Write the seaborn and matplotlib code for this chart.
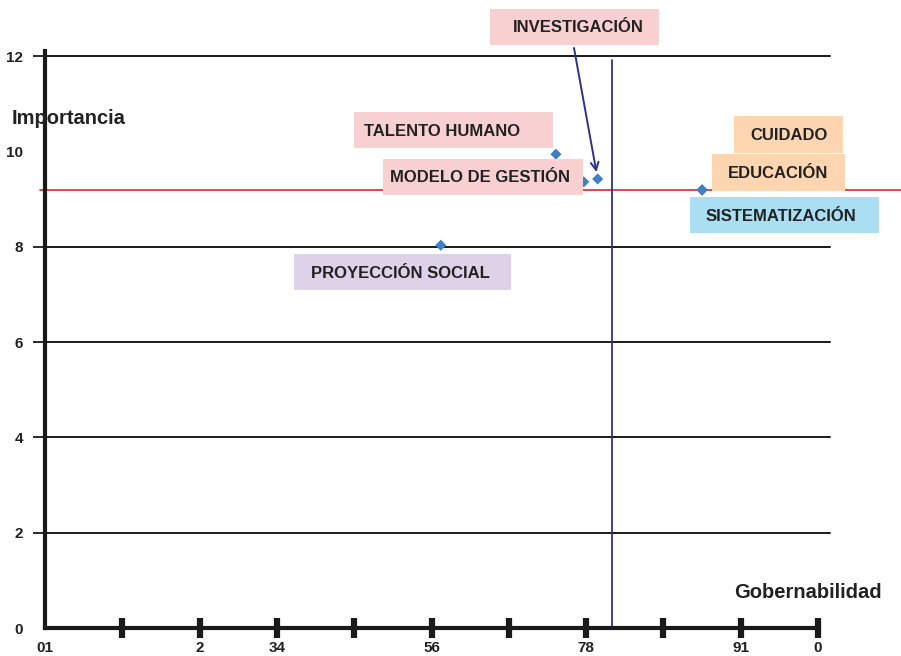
import numpy as np
import pandas as pd
import matplotlib
matplotlib.use("Agg")
import matplotlib.pyplot as plt
from matplotlib.patches import Rectangle
import seaborn as sns

# datos
temas = ["TALENTO HUMANO", "MODELO DE GESTIÓN", "INVESTIGACIÓN", "PROYECCIÓN SOCIAL",
         "SISTEMATIZACIÓN", "EDUCACIÓN", "CUIDADO"]
gobernabilidad = [6.61, 6.97, 7.15, 5.12, 8.50, 8.50, 8.50]
importancia = [9.94, 9.36, 9.42, 8.03, 9.19, 9.19, 9.19]
xticks = list(range(11))
xtick_labels = ["01", "", "2", "34", "", "56", "", "78", "", "91", "0"]
yticks = [0, 2, 4, 6, 8, 10, 12]

df = pd.DataFrame({"tema": temas, "Gobernabilidad": gobernabilidad, "Importancia": importancia})

sns.set_style("white")
plt.rcParams["font.family"] = ["Liberation Sans", "DejaVu Sans"]
plt.rcParams["font.weight"] = "bold"

W, H = 901, 656
fig = plt.figure(figsize=(W / 100, H / 100), dpi=100)
ax = fig.add_axes([45 / W, (H - 628) / H, (818 - 45) / W, (628 - 56) / H])

# lineas horizontales (sin la de 10)
for yv in [2, 4, 6, 8, 12]:
    ax.plot([0, 10.16], [yv, yv], color="#1a1a1a", lw=1.4, clip_on=False, zorder=1)

# promedios
ax.plot([-0.06, 11.1], [df["Importancia"].mean()] * 2, color="#e8202a", lw=1.2,
        clip_on=False, zorder=2)
ax.plot([df["Gobernabilidad"].mean()] * 2, [0, 11.92], color="#2e3192", lw=1.3,
        clip_on=False, zorder=2)

sns.scatterplot(data=df, x="Gobernabilidad", y="Importancia", marker="D", s=32,
                color="#3f7fc4", edgecolor="none", ax=ax, zorder=4, legend=False)

ax.set_xlim(0, 10)
ax.set_ylim(0, 12)
ax.set_xticks(xticks)
ax.set_xticklabels(xtick_labels, fontsize=11, fontweight="bold", color="#222222")
ax.set_yticks(yticks)
ax.set_yticklabels([str(v) for v in yticks], fontsize=11, fontweight="bold", color="#222222")
ax.tick_params(axis="x", direction="inout", length=14, width=4.5, color="#1a1a1a", pad=2,
               bottom=True)
ax.tick_params(axis="y", direction="out", length=9, width=1.3, color="#1a1a1a", pad=7,
               left=True)
ax.xaxis.get_major_ticks()[0].tick1line.set_visible(False)
ax.xaxis.get_major_ticks()[0].label1.set_x(0.07)
for k in (0, 5):
    ax.yaxis.get_major_ticks()[k].tick1line.set_visible(False)
ax.set_xlabel("")
ax.set_ylabel("")
for s in ["top", "right"]:
    ax.spines[s].set_visible(False)
for s in ["left", "bottom"]:
    ax.spines[s].set_linewidth(3)
    ax.spines[s].set_color("#1a1a1a")
    ax.spines[s].set_zorder(5)
ax.spines["left"].set_bounds(0, 12.1)

# etiquetas con caja: (texto, x0, y0, x1, y1, color, texto_x, alineacion)
cajas = [
    ("INVESTIGACIÓN", 490, 9, 659, 45, "#f9d0d2", 578, "center"),
    ("TALENTO HUMANO", 354, 112, 553, 148, "#f9d0d2", 364, "left"),
    ("MODELO DE GESTIÓN", 383, 159, 583, 195, "#f9d0d2", 390, "left"),
    ("PROYECCIÓN SOCIAL", 294, 254, 511, 290, "#ddd2e8", 311, "left"),
    ("CUIDADO", 734, 116, 843, 153, "#fdd6b1", 750, "left"),
    ("EDUCACIÓN", 712, 154, 845, 191, "#fdd6b1", 728, "left"),
    ("SISTEMATIZACIÓN", 690, 197, 879, 233, "#a9def3", 706, "left"),
]
for txt, x0, y0, x1, y1, col, tx, ha in cajas:
    fig.add_artist(Rectangle((x0 / W, 1 - y1 / H), (x1 - x0) / W, (y1 - y0) / H,
                             transform=fig.transFigure, facecolor=col, edgecolor="none",
                             zorder=3))
    fig.text(tx / W, 1 - ((y0 + y1) / 2 + 1) / H, txt, ha=ha, va="center", fontsize=12,
             fontweight="bold", color="#222222", zorder=6)

# flecha de investigacion
i = temas.index("INVESTIGACIÓN")
ax.annotate("", xy=(gobernabilidad[i], importancia[i]), xycoords="data",
            xytext=(574, H - 48), textcoords="figure pixels",
            arrowprops=dict(arrowstyle="->", color="#2e3192", lw=1.4,
                            shrinkA=0, shrinkB=5, mutation_scale=14), zorder=5)

fig.text(12 / W, 1 - 119 / H, "Importancia", ha="left", va="center", fontsize=14.5,
         fontweight="bold", color="#222222")
fig.text(882 / W, 1 - 592 / H, "Gobernabilidad", ha="right", va="center", fontsize=14.5,
         fontweight="bold", color="#222222")

fig.savefig("out.png", dpi=100)
